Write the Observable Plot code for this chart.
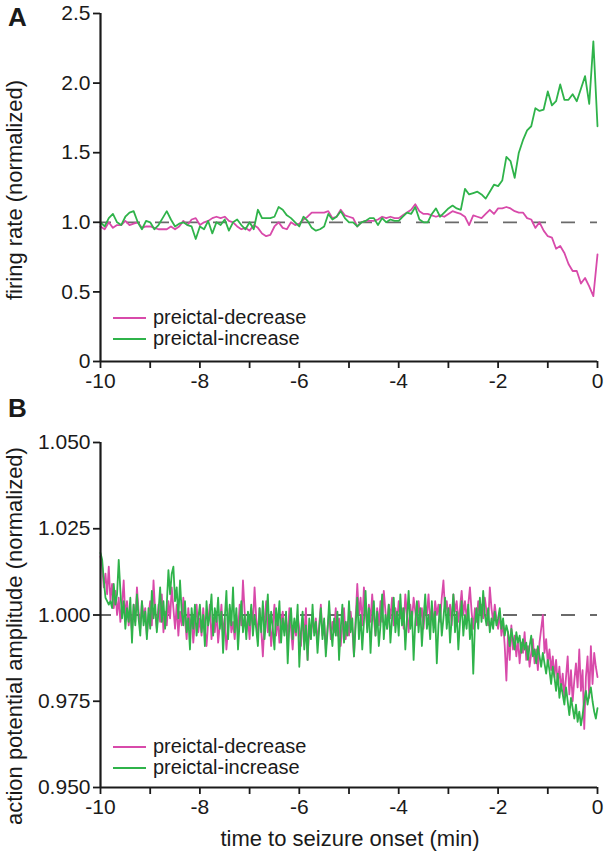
<!DOCTYPE html>
<html><head><meta charset="utf-8">
<script src="https://cdn.jsdelivr.net/npm/d3@7"></script>
<script src="https://cdn.jsdelivr.net/npm/@observablehq/plot@0.6"></script>
<style>
html,body{margin:0;padding:0;background:#fff;}
#wrap{position:relative;width:605px;height:853px;font-family:"Liberation Sans",Arial,sans-serif;color:#1a1a1a;overflow:hidden;}
.abs{position:absolute;white-space:nowrap;}
.rot{transform:translate(-50%,-50%) rotate(-90deg);font-size:22px;}
.panel{font-weight:bold;font-size:26px;}
.leg{font-size:20px;display:flex;align-items:center;line-height:21px;}
.leg svg{margin-right:7px;}
</style></head>
<body><div id="wrap"></div>
<script>
// ---- Data ----
const seriesNames = ["preictal-decrease", "preictal-increase"];
const seriesColors = ["#d84aaa", "#2fb34a"];
const xTicks = [-10, -9, -8, -7, -6, -5, -4, -3, -2, -1, 0];
const yTicksA = [0, 0.5, 1.0, 1.5, 2.0, 2.5];
const yTicksB = [0.95, 0.975, 1.0, 1.025, 1.05];
const binA = 1 / 12;   // 5-s bins (minutes)
const binB = 1 / 30;   // 2-s bins (minutes)

// Panel A: firing rate (normalized)
const rateDecrease = [
  0.97,0.95,1.00,0.96,0.98,0.98,1.01,0.98,0.99,1.00,
  0.96,0.97,0.97,0.96,0.95,0.95,0.95,0.97,0.95,0.97,
  1.01,0.98,1.02,1.03,0.98,1.00,1.01,1.03,1.04,1.03,
  1.04,1.01,1.00,0.97,0.95,0.96,0.94,0.98,0.96,0.92,
  0.90,0.91,0.97,1.00,0.96,0.95,1.00,0.98,0.99,1.02,
  1.04,1.07,1.07,1.07,1.07,1.08,1.03,1.04,1.09,1.05,
  1.04,1.03,0.97,1.00,1.01,1.01,1.01,1.02,1.04,1.03,
  1.04,1.03,1.03,1.05,1.07,1.09,1.13,1.08,1.06,1.06,
  1.05,1.04,1.05,1.04,1.06,1.08,1.07,1.06,1.04,0.98,
  1.05,1.04,1.03,1.06,1.09,1.06,1.10,1.10,1.11,1.10,
  1.08,1.07,1.07,1.03,1.02,0.96,1.00,0.94,0.90,0.89,
  0.81,0.83,0.78,0.70,0.65,0.65,0.56,0.60,0.54,0.47,0.77
];
const rateIncrease = [
  1.00,0.97,1.03,1.06,1.00,0.98,1.04,1.07,1.08,1.00,
  0.95,1.01,1.00,0.95,0.98,1.03,1.08,1.02,0.97,0.99,
  1.00,0.98,0.97,0.88,0.97,0.95,1.01,0.92,1.00,0.98,
  1.02,0.94,1.00,1.02,0.98,0.95,1.00,0.95,1.09,1.03,
  1.03,1.03,1.04,1.11,1.09,1.05,1.03,1.00,0.97,1.04,
  1.01,0.96,0.94,0.95,0.97,1.06,1.02,1.04,1.08,1.03,
  1.00,1.00,0.97,1.00,1.01,1.03,1.03,0.98,1.03,1.00,
  1.02,1.01,1.01,1.04,1.07,1.06,1.11,1.02,1.00,1.00,
  1.06,1.10,1.04,1.07,1.10,1.12,1.10,1.09,1.24,1.20,
  1.21,1.22,1.20,1.17,1.22,1.27,1.26,1.30,1.47,1.44,
  1.32,1.50,1.59,1.66,1.69,1.82,1.80,1.81,1.94,1.84,
  1.87,1.99,1.88,1.88,1.92,1.87,1.96,2.05,1.85,2.30,1.69
];

// Panel B: action potential amplitude (normalized)
const ampDecrease = [
  1.017,1.014,1.008,1.012,1.006,1.014,1.004,1.009,1.002,1.007,
  1.000,1.005,0.998,1.003,1.010,0.999,1.004,0.997,1.001,0.995,
  1.003,0.998,1.008,1.001,0.996,1.004,0.999,1.002,0.994,1.000,
  1.004,0.997,1.010,1.001,0.996,1.003,0.998,1.006,0.995,1.001,
  0.997,1.004,0.999,1.008,1.002,0.996,1.003,0.994,1.001,0.997,
  1.005,0.999,0.993,1.002,0.996,1.000,0.992,0.998,1.003,0.995,
  0.999,0.994,1.002,0.996,0.991,0.998,1.003,0.993,0.999,0.995,
  1.001,0.992,0.997,1.003,0.994,0.999,0.990,0.996,1.002,0.995,
  0.998,0.993,1.000,0.995,1.003,0.997,1.010,1.001,0.995,0.999,
  0.993,1.002,0.997,1.008,0.999,0.994,1.002,0.996,0.988,0.998,
  1.004,0.995,1.000,0.991,0.997,1.003,0.994,0.999,0.992,0.998,
  1.001,0.995,0.999,0.993,1.002,0.996,0.990,0.998,0.994,1.000,
  0.996,0.991,0.999,0.994,1.002,0.987,0.997,0.993,1.000,0.995,
  0.999,0.992,0.997,1.003,0.994,0.998,0.990,0.996,1.001,0.993,
  0.998,0.995,1.002,0.994,0.999,0.991,0.997,1.002,0.993,0.998,
  0.994,1.001,0.996,0.988,0.999,1.009,1.000,1.005,0.997,1.008,
  1.001,0.996,1.003,0.998,1.006,0.999,0.994,1.002,0.997,1.004,
  0.998,1.007,1.001,0.996,1.003,0.999,1.005,0.997,1.002,0.998,
  1.004,0.999,1.002,0.996,1.006,1.000,0.995,1.003,0.998,1.005,
  1.001,0.997,1.004,0.999,1.002,0.996,1.003,1.000,1.006,0.998,
  1.002,0.997,1.004,1.000,1.003,0.998,1.005,1.010,1.001,1.004,
  0.999,1.003,0.997,1.006,1.001,1.004,0.998,1.002,1.007,1.000,
  1.004,0.999,1.003,1.008,1.001,0.996,1.002,0.998,1.004,1.000,
  1.003,0.999,1.005,1.001,0.997,1.008,1.002,0.998,1.003,0.999,
  0.996,1.001,0.994,0.998,0.991,0.981,0.995,0.987,0.997,0.990,
  0.994,0.988,0.993,0.986,0.992,0.989,0.995,0.987,0.991,0.985,
  0.989,0.993,0.986,0.990,0.984,0.992,0.996,1.000,0.989,0.993,
  0.986,0.990,0.984,0.988,0.982,0.987,0.980,0.985,0.978,0.983,
  0.976,0.982,0.988,0.977,0.984,0.975,0.981,0.986,0.979,0.990,
  0.978,0.984,0.967,0.982,0.988,0.976,0.991,0.980,0.989,0.985,0.982
];
const ampIncrease = [
  1.018,1.016,1.010,1.005,1.004,1.003,1.004,1.002,1.009,1.003,
  1.006,1.016,1.007,0.999,1.004,0.996,1.002,0.998,1.005,0.992,
  1.003,0.997,1.006,0.999,0.994,1.004,0.997,1.001,0.993,1.002,
  0.996,1.007,0.999,1.003,0.995,1.001,1.008,0.998,1.004,0.996,
  1.003,1.013,1.006,1.012,1.014,1.004,1.008,0.999,1.010,1.001,
  0.997,1.004,0.995,0.999,0.990,1.002,0.996,1.003,0.994,0.999,
  1.003,0.995,1.000,0.991,1.004,0.997,1.000,1.006,0.994,1.002,
  0.998,1.005,0.996,1.001,0.989,0.999,1.007,0.993,1.003,0.997,
  1.008,0.995,1.002,0.990,0.998,1.004,0.995,1.000,0.993,1.001,
  0.997,1.003,0.994,1.000,0.996,0.991,1.002,0.995,1.004,0.993,
  0.999,1.006,0.994,1.001,0.996,0.990,1.002,0.997,1.004,0.992,
  0.999,0.994,1.001,0.986,0.997,1.002,0.993,0.999,0.995,1.003,
  0.985,0.995,1.001,0.990,0.997,0.987,0.999,0.993,1.003,0.994,
  0.998,0.989,0.996,1.002,0.993,0.999,0.988,0.995,1.004,0.996,
  0.991,0.999,0.994,1.001,0.987,0.996,1.003,0.992,0.998,0.994,
  1.004,0.995,0.999,0.988,0.997,1.005,0.993,1.000,0.990,0.998,
  1.007,0.995,1.002,0.989,0.999,1.004,0.994,1.001,0.991,0.997,
  1.006,0.993,1.000,0.996,1.003,0.992,0.999,1.005,0.995,1.001,
  0.994,1.006,0.997,1.002,0.990,0.999,1.007,0.996,1.001,0.987,
  0.998,1.004,0.995,1.002,0.991,0.999,1.006,0.996,1.000,0.993,
  1.004,0.995,1.001,0.986,0.997,1.003,0.994,0.999,1.005,0.996,
  1.002,0.992,0.999,1.006,0.995,1.001,0.990,0.998,1.004,0.994,
  1.000,0.996,1.003,0.993,0.999,0.983,0.997,1.002,0.996,1.005,
  0.998,1.007,1.000,0.997,1.002,0.995,0.999,0.996,1.001,0.997,
  0.999,1.002,0.996,0.999,0.994,0.997,0.995,0.991,0.996,0.993,
  0.990,0.995,0.992,0.994,0.989,0.993,0.990,0.992,0.987,0.991,
  0.994,0.988,0.990,0.986,0.991,0.988,0.985,0.989,0.986,0.983,
  0.987,0.984,0.980,0.985,0.982,0.978,0.983,0.976,0.980,0.977,
  0.974,0.979,0.975,0.971,0.976,0.973,0.970,0.974,0.969,0.972,
  0.968,0.971,0.975,0.978,0.974,0.977,0.979,0.975,0.972,0.970,0.973
];

// ---- Build tables ----
function table(vals, bin, name) {
  return vals.map((v, i) => ({t: -10 + i * bin, v, series: name}));
}
const dataA = [table(rateDecrease, binA, seriesNames[0]), table(rateIncrease, binA, seriesNames[1])];
const dataB = [table(ampDecrease, binB, seriesNames[0]), table(ampIncrease, binB, seriesNames[1])];

const font = '"Liberation Sans", Arial, sans-serif';
function panel(data, opts) {
  return Plot.plot({
    width: 605, height: opts.height,
    marginLeft: 100, marginRight: 8, marginTop: opts.mt, marginBottom: opts.mb,
    style: {fontFamily: font, fontSize: "21px", color: "#1a1a1a", background: "transparent", overflow: "visible"},
    x: {domain: [-10, 0]},
    y: {domain: opts.ydomain},
    marks: [
      Plot.ruleY([1], {stroke: "#6a6a6a", strokeWidth: 1.8, strokeDasharray: "14,15", strokeDashoffset: 3}),
      Plot.line(data[0], {x: "t", y: "v", stroke: seriesColors[0], strokeWidth: 1.8}),
      Plot.line(data[1], {x: "t", y: "v", stroke: seriesColors[1], strokeWidth: 1.8}),
      Plot.axisX({ticks: xTicks, tickSize: 7, tickPadding: 5, strokeWidth: 1.8, label: null,
        tickFormat: d => (d % 2 === 0 ? String(d) : "")}),
      Plot.axisY({ticks: opts.yticks, tickSize: 7, tickPadding: 3, strokeWidth: 1.8, label: null,
        tickFormat: opts.fmt}),
      Plot.ruleX([-10], {stroke: "#1a1a1a", strokeWidth: 2.2}),
      Plot.ruleY([opts.ydomain[0]], {stroke: "#1a1a1a", strokeWidth: 2.2})
    ]
  });
}

const wrap = document.getElementById("wrap");
const svgA = panel(dataA, {height: 400, mt: 13, mb: 39, ydomain: [0, 2.5], yticks: yTicksA,
  fmt: d => (d === 0 ? "0" : d.toFixed(1))});
const svgB = panel(dataB, {height: 453, mt: 42, mb: 66, ydomain: [0.95, 1.05], yticks: yTicksB,
  fmt: d => d.toFixed(3)});
svgA.style.position = "absolute"; svgA.style.left = "0px"; svgA.style.top = "0px";
svgB.style.position = "absolute"; svgB.style.left = "0px"; svgB.style.top = "400px";
wrap.appendChild(svgA);
wrap.appendChild(svgB);

function addDiv(cls, text, left, top) {
  const d = document.createElement("div");
  d.className = "abs " + cls;
  d.textContent = text;
  d.style.left = left + "px"; d.style.top = top + "px";
  wrap.appendChild(d);
  return d;
}
addDiv("panel", "A", 8, 2);
addDiv("panel", "B", 8, 393);
addDiv("rot", "firing rate (normalized)", 15, 190);
addDiv("rot", "action potential amplitude (normalized)", 15, 636);
const xt = addDiv("", "time to seizure onset (min)", 350, 839);
xt.style.fontSize = "22px"; xt.style.transform = "translate(-50%,-50%)";

function legend(top) {
  seriesNames.forEach((name, i) => {
    const row = document.createElement("div");
    row.className = "abs leg";
    row.style.left = "113px"; row.style.top = (top + i * 21) + "px";
    row.innerHTML = `<svg width="33" height="4"><line x1="0" x2="33" y1="2" y2="2" stroke="${seriesColors[i]}" stroke-width="1.8"/></svg><span>${name}</span>`;
    wrap.appendChild(row);
  });
}
legend(307);
legend(736);
</script></body></html>
